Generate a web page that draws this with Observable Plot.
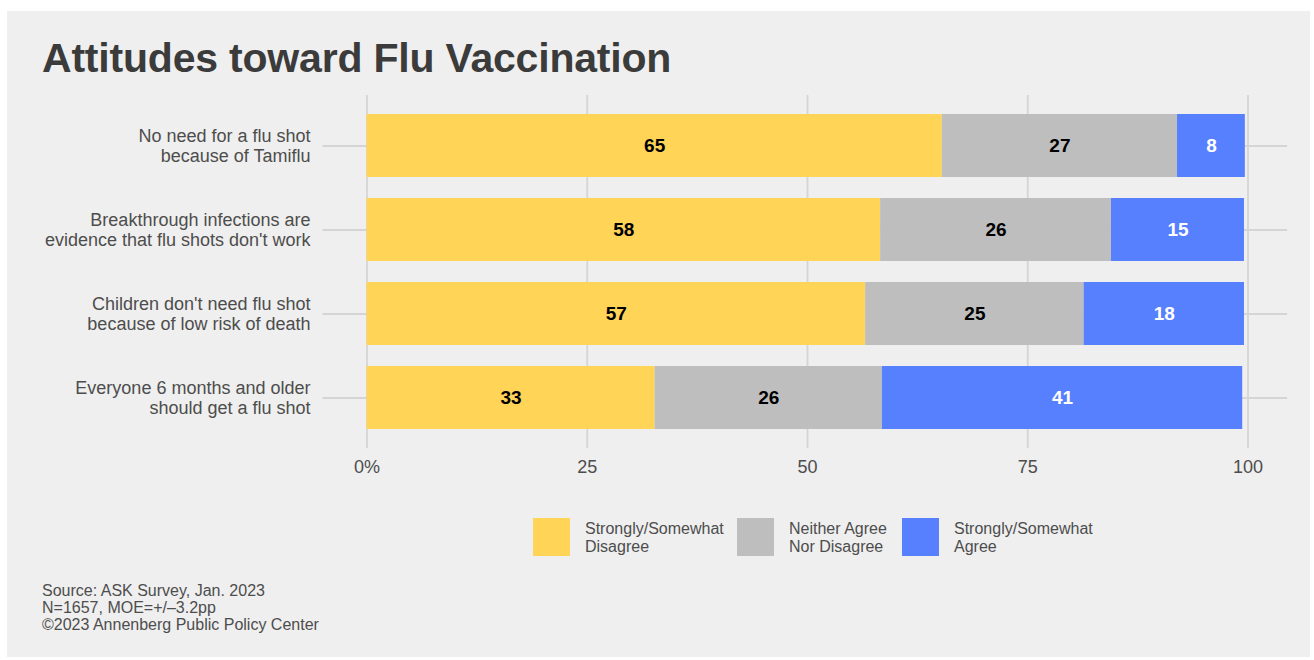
<!DOCTYPE html>
<html><head><meta charset="utf-8">
<script src="https://cdn.jsdelivr.net/npm/d3@7"></script>
<script src="https://cdn.jsdelivr.net/npm/@observablehq/plot@0.6"></script>
<style>
body{margin:0;background:#fff;font-family:"Liberation Sans",Arial,Helvetica,sans-serif;}
#wrap{position:relative;width:1314px;height:660px;overflow:hidden;}
#panel{position:absolute;left:7px;top:11px;width:1303px;height:646px;background:#efefef;}
#title{position:absolute;left:42px;top:38px;font-size:41px;line-height:41px;letter-spacing:-0.2px;font-weight:bold;color:#3b3b3b;white-space:nowrap;}
#chart{position:absolute;left:0;top:0;}
.sw{position:absolute;width:37px;height:38px;top:518px;}
.lt{position:absolute;top:520px;font-size:16px;line-height:18px;color:#4d4d4d;white-space:nowrap;}
#caption{position:absolute;left:42px;top:582px;font-size:16px;line-height:17px;color:#4d4d4d;white-space:nowrap;}
</style></head>
<body>
<div id="wrap">
<div id="panel"></div>
<div id="title"></div>
<div id="chart"></div>
<div id="legend"></div>
<div id="caption"></div>
</div>
<script>
const titleText = "Attitudes toward Flu Vaccination";
const questions = [
  "No need for a flu shot\nbecause of Tamiflu",
  "Breakthrough infections are\nevidence that flu shots don't work",
  "Children don't need flu shot\nbecause of low risk of death",
  "Everyone 6 months and older\nshould get a flu shot"
];
const categories = ["Strongly/Somewhat Disagree", "Neither Agree Nor Disagree", "Strongly/Somewhat Agree"];
const legendLabels = ["Strongly/Somewhat\nDisagree", "Neither Agree\nNor Disagree", "Strongly/Somewhat\nAgree"];
const colors = ["#FFD457", "#BEBEBE", "#5780FF"];
const labelColors = ["#000000", "#000000", "#FFFFFF"];
const disagree = [65.3, 58.3, 56.6, 32.7];
const neither = [26.7, 26.2, 24.8, 25.8];
const agree = [7.7, 15.1, 18.2, 40.9];
const disagreeLabels = [65, 58, 57, 33];
const neitherLabels = [27, 26, 25, 26];
const agreeLabels = [8, 15, 18, 41];
const xTicks = [0, 25, 50, 75, 100];
const xTickLabels = ["0%", "25", "50", "75", "100"];
const captionLines = ["Source: ASK Survey, Jan. 2023", "N=1657, MOE=+/\u20133.2pp", "\u00a92023 Annenberg Public Policy Center"];

document.getElementById("title").textContent = titleText;
document.getElementById("caption").innerHTML = captionLines.join("<br>");

const series = [disagree, neither, agree];
const seriesLabels = [disagreeLabels, neitherLabels, agreeLabels];
const data = [];
questions.forEach((q, i) => {
  categories.forEach((c, j) => {
    data.push({q, cat: c, value: series[j][i], label: seriesLabels[j][i], color: colors[j], tcolor: labelColors[j]});
  });
});

const chart = Plot.plot({
  width: 1314,
  height: 480,
  marginTop: 95,
  marginBottom: 32,
  marginLeft: 366.5,
  marginRight: 66.5,
  style: {background: "transparent", fontFamily: "'Liberation Sans', Arial, sans-serif", color: "#4d4d4d", overflow: "visible"},
  x: {domain: [0, 100], axis: null, label: null},
  y: {domain: questions, paddingInner: 0.25, paddingOuter: 0.226, axis: null, label: null},
  marks: [
    Plot.ruleX(xTicks, {x: d => d, stroke: "#d5d5d5", strokeWidth: 1.8}),
    Plot.ruleY(questions, {y: d => d, x1: -5, x2: 104.5, stroke: "#d5d5d5", strokeWidth: 1.8}),
    Plot.barX(data, Plot.stackX({x: "value", y: "q", z: "cat", order: categories, fill: "color"})),
    Plot.text(data, Plot.stackX({x: "value", y: "q", z: "cat", order: categories, text: "label", fill: "tcolor", fontWeight: "bold", fontSize: 19})),
    Plot.axisX({ticks: xTicks, tickFormat: (d) => xTickLabels[xTicks.indexOf(d)], tickSize: 0, tickPadding: 12, fontSize: 18, fill: "#4d4d4d", label: null}),
    Plot.axisY({tickSize: 0, tickPadding: 56.5, fontSize: 18, lineHeight: 1.1, fill: "#4d4d4d", label: null})
  ]
});
document.getElementById("chart").appendChild(chart);

const swX = [533, 737, 902];
const legend = document.getElementById("legend");
categories.forEach((c, j) => {
  const sw = document.createElement("div");
  sw.className = "sw";
  sw.style.left = swX[j] + "px";
  sw.style.background = colors[j];
  legend.appendChild(sw);
  const t = document.createElement("div");
  t.className = "lt";
  t.style.left = (swX[j] + 52) + "px";
  t.innerHTML = legendLabels[j].replace("\n", "<br>");
  legend.appendChild(t);
});
</script>
</body></html>
